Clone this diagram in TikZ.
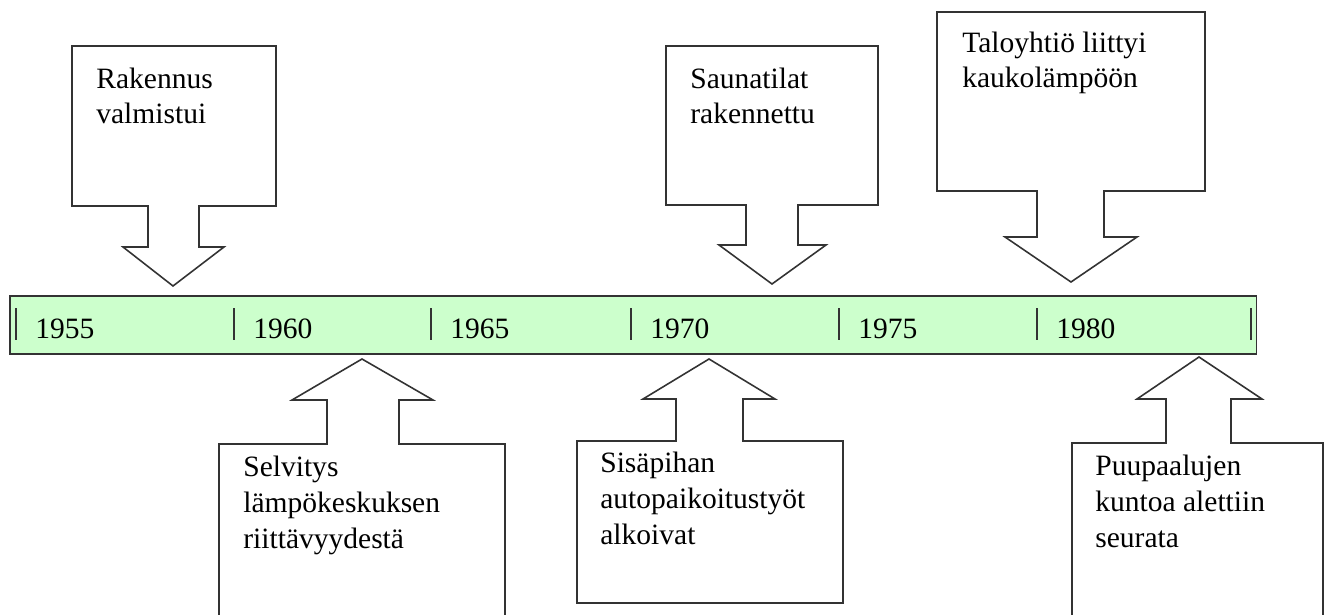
\documentclass[tikz,border=0pt]{standalone}
\usepackage{fontspec}
\setmainfont{Liberation Serif}
\usetikzlibrary{positioning}
\definecolor{barfill}{HTML}{CCFFCC}
\definecolor{edge}{HTML}{333333}

\begin{document}
\begin{tikzpicture}[
    x=0.02cm, y=-0.02cm,
    bar/.style={draw=edge, fill=barfill, line width=0.9pt, anchor=north west,
                minimum width=24.94cm, minimum height=1.16cm, inner sep=0pt},
    callout/.style={draw=edge, fill=white, line width=0.9pt, line join=miter},
    tick/.style={draw=edge, line width=0.9pt},
    note/.style={font=\fontsize{16.8}{20.4}\selectfont, align=left,
                 anchor=base west, inner sep=0pt},
    year/.style={font=\fontsize{16.8}{20.4}\selectfont, anchor=base west, inner sep=0pt}
  ]
  \clip (0,0) rectangle (1325,615);

  % Time axis
  \node[bar] (axis) at (9,295) {};
  \draw[tick] (16,308)   -- (16,340);
  \draw[tick] (234,308)  -- (234,340);
  \draw[tick] (431,308)  -- (431,340);
  \draw[tick] (631,308)  -- (631,340);
  \draw[tick] (839,308)  -- (839,340);
  \draw[tick] (1037,308) -- (1037,340);
  \draw[tick] (1251,308) -- (1251,340);

  \node[year] (y1955) at (35,338)   {1955};
  \node[year] (y1960) at (253,338)  {1960};
  \node[year] (y1965) at (450,338)  {1965};
  \node[year] (y1970) at (650,338)  {1970};
  \node[year] (y1975) at (858,338)  {1975};
  \node[year] (y1980) at (1056,338) {1980};

  % Callouts above the axis
  \draw[callout] (72,46) -- (276,46) -- (276,206) -- (199,206) -- (199,247)
    -- (224,247) -- (173,286) -- (123,247) -- (148,247) -- (148,206)
    -- (72,206) -- cycle;
  \draw[callout] (666,46) -- (878,46) -- (878,205) -- (798,205) -- (798,245)
    -- (826,245) -- (772,284) -- (719,245) -- (746,245) -- (746,205)
    -- (666,205) -- cycle;
  \draw[callout] (937,12) -- (1205,12) -- (1205,191) -- (1104,191) -- (1104,237)
    -- (1137,237) -- (1071,282) -- (1005,237) -- (1037,237) -- (1037,191)
    -- (937,191) -- cycle;

  % Callouts below the axis
  \draw[callout] (362,359) -- (433,400) -- (399,400) -- (399,444) -- (505,444)
    -- (505,630) -- (219,630) -- (219,444) -- (327,444) -- (327,400)
    -- (292,400) -- cycle;
  \draw[callout] (709,359) -- (775,399) -- (743,399) -- (743,441) -- (843,441)
    -- (843,603) -- (577,603) -- (577,441) -- (676,441) -- (676,399)
    -- (643,399) -- cycle;
  \draw[callout] (1199,357) -- (1262,399) -- (1231,399) -- (1231,443) -- (1323,443)
    -- (1323,630) -- (1072,630) -- (1072,443) -- (1166,443) -- (1166,399)
    -- (1137,399) -- cycle;

  % Event texts (placed at the baseline of their last line)
  \node[note] (rakennus)   at (96,124)   {Rakennus\\valmistui};
  \node[note] (sauna)      at (690,124)  {Saunatilat\\rakennettu};
  \node[note] (kaukolampo) at (962,88)   {Taloyhtiö liittyi\\kaukolämpöön};
  \node[note] (selvitys)   at (243,548)  {Selvitys\\lämpökeskuksen\\riittävyydestä};
  \node[note] (sisapiha)   at (600,544)  {Sisäpihan\\autopaikoitustyöt\\alkoivat};
  \node[note] (paalut)     at (1095,547) {Puupaalujen\\kuntoa alettiin\\seurata};
\end{tikzpicture}
\end{document}
